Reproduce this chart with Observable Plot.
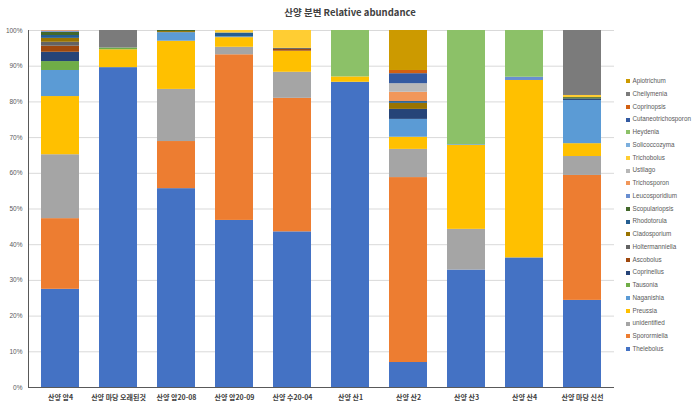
<!DOCTYPE html>
<html>
<head>
<meta charset="utf-8">
<script src="https://cdn.jsdelivr.net/npm/d3@7"></script>
<script src="https://cdn.jsdelivr.net/npm/@observablehq/plot@0.6"></script>
<style>
  html, body { margin: 0; padding: 0; background: #fff; }
  #wrap { position: relative; width: 700px; height: 409px; overflow: hidden; font-family: "Liberation Sans", Arial, sans-serif; }
  #wrap svg { position: absolute; left: 0; top: 0; }
  #title { position: absolute; left: 0; width: 700px; top: 5px; text-align: center; font-family: "Noto Sans CJK KR", sans-serif; font-weight: bold; font-size: 9.5px; line-height: 14px; color: #404040; }
  #legend { position: absolute; left: 626px; top: 75px; }
  .li { height: 12.75px; line-height: 12.75px; font-size: 6.3px; color: #595959; white-space: nowrap; display: flex; align-items: center; }
  .sw { width: 4px; height: 4px; margin-right: 2.5px; flex: none; }
  [aria-label="x-axis tick label"] text { font-family: "Noto Sans CJK KR", sans-serif; font-weight: bold; font-size: 7px; fill: #404040; }
  [aria-label="y-axis tick label"] text { font-family: "Liberation Sans", Arial, sans-serif; font-size: 6.5px; fill: #595959; }
</style>
</head>
<body>
<div id="wrap">
  <div id="title">산양 분변 Relative abundance</div>
  <div id="legend"></div>
</div>
<script>
const samples = ["산양 암4", "산양 마당 오래된것", "산양 암20-08", "산양 암20-09", "산양 수20-04", "산양 산1", "산양 산2", "산양 산3", "산양 산4", "산양 마당 신선"];

const genera = ["Thelebolus", "Sporormiella", "unidentified", "Preussia", "Naganishia", "Tausonia", "Coprinellus", "Ascobolus", "Holtermanniella", "Cladosporium", "Rhodotorula", "Scopulariopsis", "Leucosporidium", "Trichosporon", "Ustilago", "Trichobolus", "Solicoccozyma", "Heydenia", "Cutaneotrichosporon", "Coprinopsis", "Cheilymenia", "Apiotrichum"];

const colors = ["#4472C4", "#ED7D31", "#A5A5A5", "#FFC000", "#5B9BD5", "#70AD47", "#264478", "#9E480E", "#636363", "#997300", "#255E91", "#43682B", "#698ED0", "#F1975A", "#B7B7B7", "#FFCD33", "#7CAFDD", "#8CC168", "#335AA1", "#D26012", "#7B7B7B", "#CC9A00"];

const yTicks = [0, 10, 20, 30, 40, 50, 60, 70, 80, 90, 100];

// percent values per genus, one per sample (same order as samples)
const Thelebolus          = [27.5, 89.6, 55.7, 46.8, 43.6, 85.5,  7.0, 32.9, 36.3, 24.4];
const Sporormiella        = [19.8,  0,   13.2, 46.4, 37.4,  0,   51.8,  0,    0,   35.0];
const unidentified        = [17.9,  0,   14.6,  2.1,  7.3,  0,    7.9, 11.4,  0,    5.3];
const Preussia            = [16.3,  5.0, 13.5,  2.7,  5.9,  1.5,  3.4, 23.5, 49.7,  3.6];
const Naganishia          = [ 7.3,  0,    2.4,  0.2,  0,    0,    5.0,  0.2,  0,   12.1];
const Tausonia            = [ 2.5,  0.5,  0,    0,    0,    0,    0,    0,    0,    0  ];
const Coprinellus         = [ 2.6,  0,    0,    0,    0,    0,    2.8,  0,    0,    0.4];
const Ascobolus           = [ 1.7,  0,    0,    0,    0.5,  0,    0,    0,    0,    0  ];
const Holtermanniella     = [ 1.1,  0,    0,    0,    0.3,  0,    0,    0,    0,    0  ];
const Cladosporium        = [ 1.1,  0,    0.3,  0,    0,    0,    1.7,  0,    0,    0  ];
const Rhodotorula         = [ 0.8,  0,    0,    1.1,  0,    0,    0.5,  0,    0,    0  ];
const Scopulariopsis      = [ 0.9,  0,    0.3,  0,    0,    0,    0,    0,    0,    0.4];
const Leucosporidium      = [ 0.3,  0,    0,    0,    0,    0,    0,    0,    0.9,  0  ];
const Trichosporon        = [ 0.2,  0,    0,    0,    0,    0,    2.6,  0,    0,    0  ];
const Ustilago            = [ 0,    0,    0,    0,    0,    0,    2.4,  0,    0,    0  ];
const Trichobolus         = [ 0,    0,    0,    0.7,  5.0,  0,    0,    0,    0,    0.6];
const Solicoccozyma       = [ 0,    0,    0,    0,    0,    0,    0,    0,    0,    0  ];
const Heydenia            = [ 0,    0,    0,    0,    0,   13.0,  0,   32.0, 13.1,  0  ];
const Cutaneotrichosporon = [ 0,    0,    0,    0,    0,    0,    2.8,  0,    0,    0  ];
const Coprinopsis         = [ 0,    0,    0,    0,    0,    0,    0.9,  0,    0,    0  ];
const Cheilymenia         = [ 0,    4.9,  0,    0,    0,    0,    0,    0,    0,   18.2];
const Apiotrichum         = [ 0,    0,    0,    0,    0,    0,   11.2,  0,    0,    0  ];

const series = [Thelebolus, Sporormiella, unidentified, Preussia, Naganishia, Tausonia, Coprinellus, Ascobolus, Holtermanniella, Cladosporium, Rhodotorula, Scopulariopsis, Leucosporidium, Trichosporon, Ustilago, Trichobolus, Solicoccozyma, Heydenia, Cutaneotrichosporon, Coprinopsis, Cheilymenia, Apiotrichum];

const table = genera.flatMap((g, gi) => samples.map((s, si) => ({sample: s, genus: g, value: series[gi][si]})));

const chart = Plot.plot({
  width: 700,
  height: 409,
  marginLeft: 28,
  marginRight: 86,
  marginTop: 30,
  marginBottom: 22,
  style: {background: "transparent", color: "#595959"},
  x: {domain: samples, paddingInner: 0.35, paddingOuter: 0.175, label: null, tickSize: 0, tickPadding: 8},
  y: {domain: [0, 100], ticks: yTicks, tickFormat: d => d + "%", label: null, tickSize: 0, tickPadding: 6},
  color: {domain: genera, range: colors},
  marks: [
    Plot.gridY(yTicks, {stroke: "#D9D9D9", strokeOpacity: 1, strokeWidth: 1}),
    Plot.barY(table, {x: "sample", y: "value", fill: "genus", order: genera}),
    Plot.ruleY([0], {stroke: "#595959", strokeWidth: 1}),
    Plot.frame({anchor: "left", stroke: "#595959", strokeWidth: 1})
  ]
});
document.getElementById("wrap").prepend(chart);

const legend = document.getElementById("legend");
for (let i = genera.length - 1; i >= 0; i--) {
  const row = document.createElement("div");
  row.className = "li";
  const sw = document.createElement("span");
  sw.className = "sw";
  sw.style.background = colors[i];
  const tx = document.createElement("span");
  tx.textContent = genera[i];
  row.append(sw, tx);
  legend.append(row);
}
</script>
</body>
</html>
